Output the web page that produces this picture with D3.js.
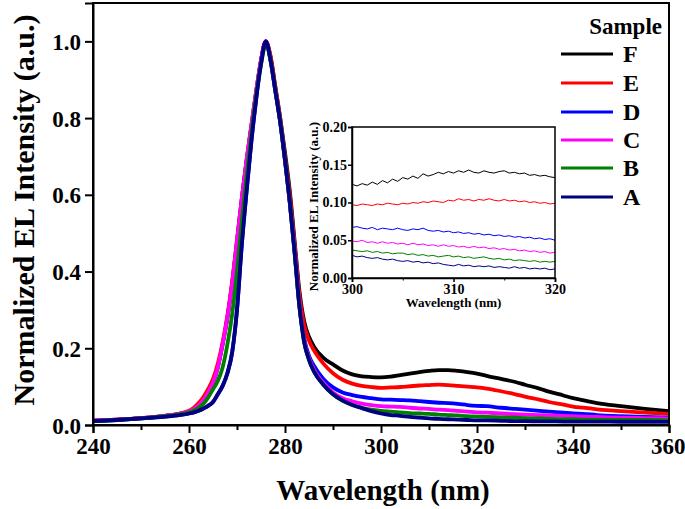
<!DOCTYPE html>
<html><head><meta charset="utf-8">
<script src="https://cdn.jsdelivr.net/npm/d3@7"></script>
<style>
body{margin:0;background:#fff}
svg{display:block}
text{font-family:"Liberation Serif","Times New Roman",serif;font-weight:bold;fill:#000}
</style>
</head><body>
<svg id="chart" width="685" height="509"></svg>
<script>
// ---------- DATA ----------
const samples = ["F","E","D","C","B","A"];
const sampleColors = ["#000000","#ff0000","#0000ff","#ff00ff","#008000","#000080"];

const wavelengths = [240,245,250,255,258,260,261,262,263,264,265,266,267,268,269,270,271,272,273,274,275,276,277,278,279,280,281,282,283,284,285,286,288,290,292,294,296,298,300,302,304,306,308,310,312,314,316,318,320,322,325,328,330,333,335,338,340,342,345,350,355,360];

const intensityF = [.011,.014,.018,.024,.029,.035,.042,.051,.065,.085,.11,.15,.21,.28,.37,.48,.59,.69,.78,.87,.95,1.0,.96,.88,.80,.71,.61,.48,.35,.27,.23,.205,.175,.158,.142,.132,.127,.125,.124,.126,.130,.134,.138,.141,.143,.143,.141,.138,.134,.128,.120,.112,.105,.095,.087,.077,.070,.065,.057,.049,.042,.036];
const intensityE = [.011,.014,.018,.024,.030,.037,.045,.057,.073,.094,.12,.16,.215,.285,.375,.48,.59,.69,.78,.87,.95,1.0,.96,.88,.80,.70,.60,.47,.34,.26,.22,.195,.16,.135,.118,.108,.102,.099,.097,.098,.099,.101,.103,.104,.105,.104,.102,.100,.098,.095,.088,.080,.074,.066,.060,.053,.048,.045,.041,.036,.032,.029];
const intensityD = [.010,.013,.017,.022,.026,.030,.033,.037,.043,.050,.060,.080,.102,.135,.19,.30,.47,.61,.74,.85,.95,1.0,.95,.87,.79,.69,.58,.45,.31,.225,.18,.155,.12,.098,.085,.078,.073,.070,.067,.066,.065,.064,.062,.060,.058,.057,.055,.052,.050,.049,.045,.042,.040,.037,.035,.032,.030,.029,.026,.023,.021,.019];
const intensityC = [.011,.014,.018,.024,.029,.035,.042,.051,.065,.085,.11,.15,.21,.28,.37,.48,.59,.69,.78,.87,.95,1.0,.95,.87,.79,.69,.58,.46,.32,.22,.175,.145,.11,.085,.070,.062,.056,.052,.049,.048,.047,.045,.043,.042,.040,.039,.037,.035,.033,.032,.030,.028,.027,.026,.025,.024,.023,.022,.021,.019,.018,.017];
const intensityB = [.010,.013,.017,.023,.028,.033,.038,.045,.055,.072,.093,.115,.15,.21,.29,.40,.53,.65,.76,.86,.94,.99,.95,.87,.79,.69,.58,.45,.31,.215,.17,.14,.105,.08,.063,.053,.045,.040,.037,.035,.033,.031,.030,.029,.027,.026,.025,.023,.022,.021,.020,.019,.018,.017,.016,.015,.015,.014,.014,.013,.013,.012];
const intensityA = [.010,.013,.017,.022,.026,.030,.033,.037,.043,.050,.060,.080,.102,.135,.19,.30,.47,.61,.74,.85,.94,1.0,.95,.87,.79,.69,.58,.45,.31,.215,.17,.14,.105,.08,.064,.052,.044,.036,.030,.026,.024,.021,.019,.017,.016,.015,.014,.013,.012,.012,.011,.010,.010,.0095,.0095,.009,.009,.009,.009,.0085,.0085,.008];

// inset (300-320 nm, every 0.5 nm)
const insetWavelengths = [300,300.5,301,301.5,302,302.5,303,303.5,304,304.5,305,305.5,306,306.5,307,307.5,308,308.5,309,309.5,310,310.5,311,311.5,312,312.5,313,313.5,314,314.5,315,315.5,316,316.5,317,317.5,318,318.5,319,319.5,320];
const insetF = [.124,.122,.125,.123,.127,.124,.129,.126,.131,.128,.133,.131,.135,.132,.138,.135,.137,.140,.138,.141,.139,.142,.140,.143,.140,.139,.142,.140,.139,.141,.142,.139,.140,.138,.139,.136,.137,.135,.136,.134,.133];
const insetE = [.097,.096,.098,.097,.096,.098,.097,.099,.098,.097,.099,.098,.100,.099,.101,.100,.102,.101,.100,.103,.102,.105,.103,.104,.102,.104,.103,.105,.103,.102,.104,.102,.103,.101,.102,.100,.101,.099,.100,.098,.099];
const insetD = [.067,.068,.066,.065,.067,.064,.066,.065,.064,.066,.064,.063,.065,.064,.066,.063,.062,.063,.061,.062,.060,.061,.059,.060,.058,.059,.057,.058,.056,.057,.055,.056,.054,.055,.053,.054,.052,.053,.051,.052,.050];
const insetC = [.049,.048,.050,.047,.048,.046,.048,.046,.047,.045,.046,.044,.046,.044,.045,.043,.044,.042,.044,.042,.043,.041,.042,.040,.042,.040,.041,.039,.040,.038,.039,.037,.038,.036,.037,.035,.036,.034,.035,.033,.034];
const insetB = [.037,.036,.035,.036,.034,.035,.033,.034,.032,.033,.033,.031,.032,.030,.031,.029,.030,.028,.029,.030,.028,.029,.027,.028,.026,.027,.028,.026,.025,.026,.024,.025,.023,.024,.023,.022,.023,.021,.022,.021,.022];
const insetA = [.030,.028,.029,.027,.026,.027,.025,.024,.025,.023,.022,.023,.021,.022,.020,.021,.019,.020,.018,.017,.016,.018,.016,.017,.015,.016,.015,.016,.014,.015,.014,.013,.015,.013,.014,.012,.013,.012,.013,.011,.012];

const xTicks = [240,260,280,300,320,340,360];
const xMinorTicks = [250,270,290,310,330,350];
const yTicks = [0.0,0.2,0.4,0.6,0.8,1.0];
const insetXTicks = [300,310,320];
const insetXMinor = [305,315];
const insetYTicks = [0.00,0.05,0.10,0.15,0.20];

const xTitle = "Wavelength (nm)";
const yTitle = "Normalized EL Intensity (a.u.)";
const legendTitle = "Sample";

// ---------- LAYOUT ----------
const svg = d3.select("#chart");
const P = {l:93, r:669, t:3, b:425};
const x = d3.scaleLinear().domain([240,360]).range([P.l,P.r]);
const y = d3.scaleLinear().domain([0,1.1]).range([P.b,P.t]);

const mainSeries = [intensityF,intensityE,intensityD,intensityC,intensityB,intensityA];
const insetSeries = [insetF,insetE,insetD,insetC,insetB,insetA];

svg.append("defs").append("clipPath").attr("id","clipMain")
  .append("rect").attr("x",P.l).attr("y",P.t).attr("width",P.r-P.l).attr("height",P.b-P.t);

const line = d3.line().x(d=>x(d[0])).y(d=>y(d[1])).curve(d3.curveMonotoneX);
const gLines = svg.append("g").attr("clip-path","url(#clipMain)");
mainSeries.forEach((vals,i)=>{
  gLines.append("path")
    .datum(wavelengths.map((w,j)=>[w,vals[j]]))
    .attr("d",line).attr("fill","none")
    .attr("stroke",sampleColors[i]).attr("stroke-width",3.8)
    .attr("stroke-linejoin","round");
});

// frame
svg.append("rect").attr("x",P.l).attr("y",P.t).attr("width",P.r-P.l).attr("height",P.b-P.t)
  .attr("fill","none").attr("stroke","#000").attr("stroke-width",2);

// axes
const xAxis = svg.append("g").attr("transform",`translate(0,${P.b})`)
  .call(d3.axisBottom(x).tickValues(xTicks).tickSize(8).tickPadding(4).tickFormat(d3.format("d")));
svg.append("g").attr("transform",`translate(0,${P.b})`)
  .call(d3.axisBottom(x).tickValues(xMinorTicks).tickSize(5).tickFormat(""))
  .call(g=>g.select(".domain").remove());
const yAxis = svg.append("g").attr("transform",`translate(${P.l},0)`)
  .call(d3.axisLeft(y).tickValues(yTicks).tickSize(8).tickPadding(4).tickFormat(d3.format(".1f")));
svg.selectAll(".tick line").attr("stroke","#000").attr("stroke-width",2);
svg.selectAll(".domain").attr("stroke","#000").attr("stroke-width",2);
xAxis.selectAll("text").attr("font-size",23).attr("font-family",null).attr("dy","0.75em");
xAxis.selectAll(".tick").filter(d=>d===360).select("text").attr("text-anchor","end").attr("dx","16");
yAxis.selectAll("text").attr("font-size",23).attr("font-family",null).attr("dy","0.35em");

svg.append("text").attr("x",(P.l+P.r)/2+2).attr("y",500).attr("text-anchor","middle")
  .attr("font-size",29).text(xTitle);
svg.append("text").attr("transform","translate(34,210) rotate(-90)").attr("text-anchor","middle")
  .attr("font-size",30).text(yTitle);

// legend
svg.append("text").attr("x",662).attr("y",34).attr("text-anchor","end").attr("font-size",23).text(legendTitle);
const legRows = [54,83,112,140,168,197];
samples.forEach((s,i)=>{
  svg.append("line").attr("x1",561).attr("x2",613).attr("y1",legRows[i]).attr("y2",legRows[i])
    .attr("stroke",sampleColors[i]).attr("stroke-width",3);
  svg.append("text").attr("x",623).attr("y",legRows[i]+8).attr("font-size",24).text(s);
});

// ---------- INSET ----------
const I = {l:352, r:555, t:127, b:278};
const xi = d3.scaleLinear().domain([300,320]).range([I.l,I.r]);
const yi = d3.scaleLinear().domain([0,0.2]).range([I.b,I.t]);
svg.append("rect").attr("x",I.l).attr("y",I.t).attr("width",I.r-I.l).attr("height",I.b-I.t)
  .attr("fill","#fff");
const lineI = d3.line().x(d=>xi(d[0])).y(d=>yi(d[1]));
insetSeries.forEach((vals,i)=>{
  svg.append("path").datum(insetWavelengths.map((w,j)=>[w,vals[j]]))
    .attr("d",lineI).attr("fill","none").attr("stroke",sampleColors[i]).attr("stroke-width",1);
});
svg.append("rect").attr("x",I.l).attr("y",I.t).attr("width",I.r-I.l).attr("height",I.b-I.t)
  .attr("fill","none").attr("stroke","#000").attr("stroke-width",1.5);
const ixA = svg.append("g").attr("transform",`translate(0,${I.b})`)
  .call(d3.axisBottom(xi).tickValues(insetXTicks).tickSize(4).tickPadding(1).tickFormat(d3.format("d")));
svg.append("g").attr("transform",`translate(0,${I.b})`)
  .call(d3.axisBottom(xi).tickValues(insetXMinor).tickSize(2.5).tickFormat(""))
  .call(g=>g.select(".domain").remove());
const iyA = svg.append("g").attr("transform",`translate(${I.l},0)`)
  .call(d3.axisLeft(yi).tickValues(insetYTicks).tickSize(4).tickPadding(1).tickFormat(d3.format(".2f")));
[ixA,iyA].forEach(g=>{
  g.selectAll(".tick line").attr("stroke","#000").attr("stroke-width",1.5);
  g.select(".domain").attr("stroke","#000").attr("stroke-width",1.5);
  g.selectAll("text").attr("font-size",14).attr("font-family",null);
});
ixA.selectAll("text").attr("dy","0.75em");
svg.append("text").attr("x",(I.l+I.r)/2).attr("y",307).attr("text-anchor","middle")
  .attr("font-size",13).text(xTitle);
svg.append("text").attr("transform",`translate(318,${(I.t+I.b)/2+4}) rotate(-90)`).attr("text-anchor","middle")
  .attr("font-size",13).text(yTitle);
</script>
</body></html>
